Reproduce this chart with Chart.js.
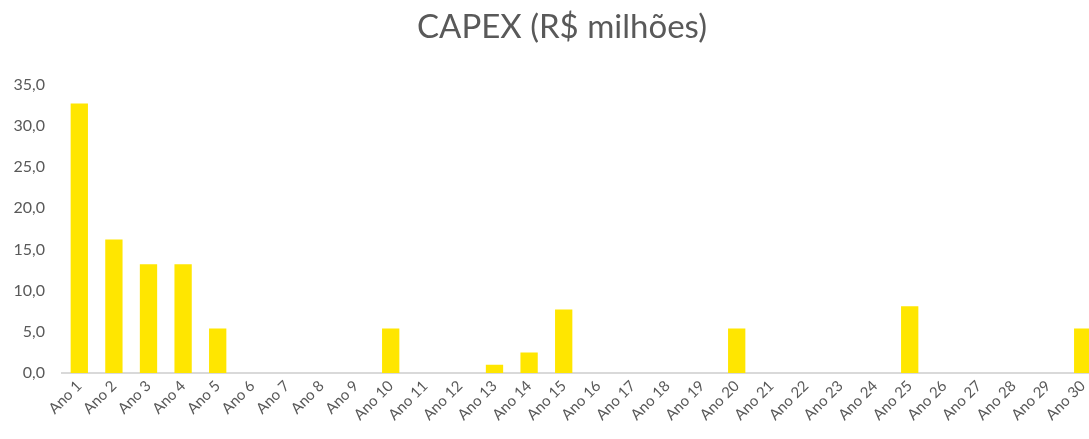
<!DOCTYPE html>
<html>
<head>
<meta charset="utf-8">
<script src="https://cdn.jsdelivr.net/npm/chart.js@4"></script>
<style>
  body { margin: 0; overflow: hidden; background: #fff; }
  .wrap { position: relative; width: 1124px; height: 439px; }
</style>
</head>
<body>
<div class="wrap"><canvas id="capex"></canvas></div>
<script>
// categories and values
const anos = [];
for (let i = 1; i <= 30; i++) anos.push('Ano ' + i);
const capex = [32.7, 16.2, 13.2, 13.2, 5.4, 0, 0, 0, 0, 5.4,
               0, 0, 1.0, 2.5, 7.7, 0, 0, 0, 0, 5.4,
               0, 0, 0, 0, 8.1, 0, 0, 0, 0, 5.4];
const yTicks = [0, 5, 10, 15, 20, 25, 30, 35];

const grey = '#595959';

function _fmt(v) {
  return v.toFixed(1).replace('.', ',');
}

new Chart(document.getElementById('capex'), {
  type: 'bar',
  data: {
    labels: anos,
    datasets: [{
      label: 'CAPEX',
      data: capex,
      backgroundColor: '#FFE600',
      categoryPercentage: 1,
      barPercentage: 0.5
    }]
  },
  options: {
    responsive: true,
    maintainAspectRatio: false,
    animation: false,
    layout: { padding: 0 },
    plugins: {
      legend: { display: false },
      tooltip: { enabled: false },
      title: {
        display: true,
        text: 'CAPEX (R$ milhões)',
        color: grey,
        font: { family: 'Lato', size: 33, weight: 'normal' },
        padding: { top: 8, bottom: 37 }
      }
    },
    scales: {
      x: {
        grid: { display: false, drawTicks: false },
        border: { display: true, color: '#d9d9d9', width: 2 },
        ticks: {
          color: grey,
          font: { family: 'Lato', size: 15 },
          minRotation: 45,
          maxRotation: 45,
          autoSkip: false,
          padding: 4
        },
        afterFit: s => { s.height = 66; }
      },
      y: {
        min: 0,
        max: 35,
        afterBuildTicks: s => { s.ticks = yTicks.map(v => ({ value: v })); },
        grid: { display: false, drawTicks: false },
        border: { display: false },
        ticks: {
          color: grey,
          font: { family: 'Lato', size: 16 },
          padding: 17,
          callback: v => _fmt(v)
        },
        afterFit: s => { s.width = 62; }
      },
      // empty right axis, only keeps the plot edge where the reference has it
      yRight: {
        position: 'right',
        min: 0,
        max: 35,
        grid: { display: false, drawTicks: false },
        border: { display: false },
        ticks: { display: false },
        afterFit: s => { s.width = 24; }
      }
    }
  }
});
</script>
</body>
</html>
